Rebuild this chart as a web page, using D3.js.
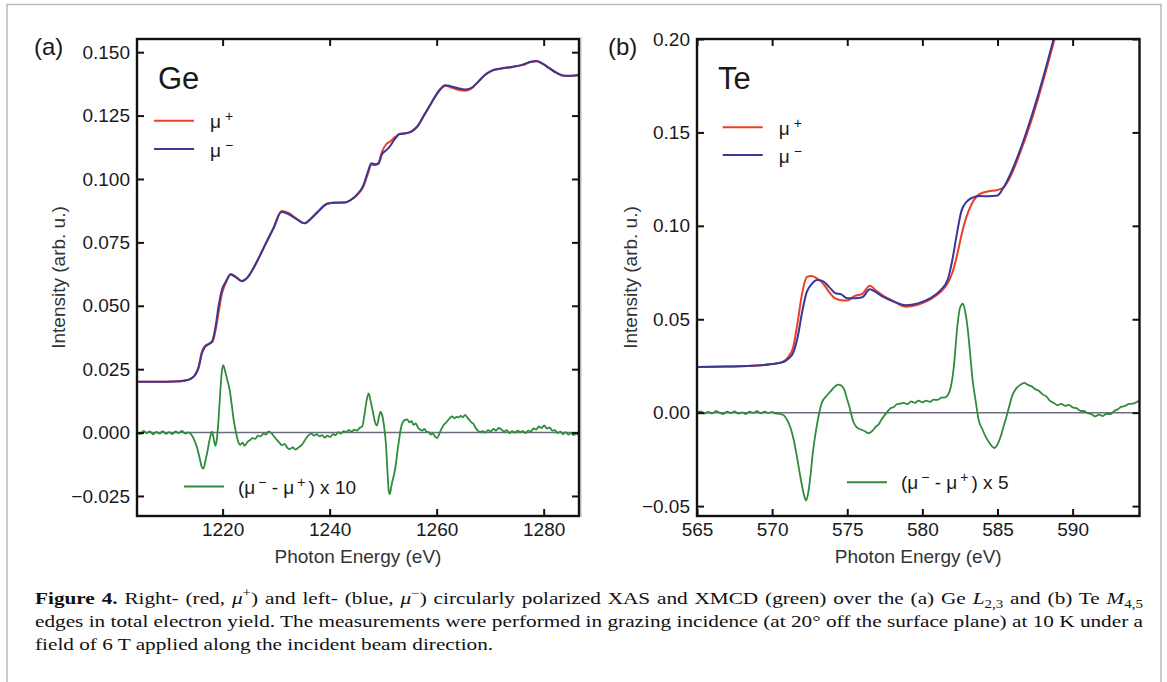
<!DOCTYPE html>
<html>
<head>
<meta charset="utf-8">
<script src="https://cdn.jsdelivr.net/npm/d3@7"></script>
<style>
  body { margin: 0; background: #fff; }
  svg text { font-family: "Liberation Sans", Arial, sans-serif; }
</style>
</head>
<body>
<svg id="fig" width="1167" height="682"></svg>
<script>
/**********************************************************************/
// DATA
/**********************************************************************/

// Ge L2,3 edge: photon energy (eV) and intensity for mu+ (red) and mu- (blue)
const geEnergy = [1204, 1208, 1211, 1213, 1214, 1214.8, 1215.5, 1216.1, 1216.7, 1217.4,
  1218.1, 1218.7, 1219.3, 1219.9, 1220.6, 1221.5, 1222.5, 1223.6, 1224.6, 1225.6,
  1226.8, 1228, 1229.5, 1231, 1232.3, 1233.6, 1235.3, 1236.6, 1238, 1239.6,
  1241, 1242.7, 1244, 1245.2, 1246.3, 1247.1, 1247.8, 1248.5, 1249.1, 1249.8,
  1250.5, 1251.3, 1252.2, 1253.1, 1254.2, 1255.3, 1256.4, 1257.6, 1259, 1260.5,
  1261.6, 1262.6, 1264, 1265.3, 1266.4, 1267.6, 1269, 1270.4, 1272, 1274,
  1276, 1277.6, 1278.7, 1279.8, 1281, 1282.3, 1283.6, 1285, 1286.6];
const geMuPlus = [0.0200, 0.0200, 0.0201, 0.0205, 0.0212, 0.0226, 0.0258, 0.0318, 0.0342, 0.0350,
  0.0358, 0.0405, 0.0480, 0.0550, 0.0590, 0.0625, 0.0614, 0.0598, 0.0611, 0.0643,
  0.0691, 0.0744, 0.0807, 0.0874, 0.0866, 0.0847, 0.0826, 0.0846, 0.0876, 0.0903,
  0.0907, 0.0907, 0.0918, 0.0938, 0.0970, 0.1018, 0.1056, 0.1055, 0.1062, 0.1108,
  0.1135, 0.1148, 0.1165, 0.1178, 0.1180, 0.1187, 0.1206, 0.1248, 0.1299, 0.1348,
  0.1368, 0.1362, 0.1352, 0.1348, 0.1355, 0.1379, 0.1409, 0.1427, 0.1435, 0.1441,
  0.1449, 0.1461, 0.1464, 0.1454, 0.1437, 0.1419, 0.1407, 0.1406, 0.1409];
const geMuMinus = [0.0200, 0.0200, 0.0201, 0.0205, 0.0212, 0.0225, 0.0255, 0.0310, 0.0338, 0.0348,
  0.0362, 0.0420, 0.0505, 0.0565, 0.0595, 0.0623, 0.0612, 0.0597, 0.0610, 0.0642,
  0.0690, 0.0742, 0.0805, 0.0870, 0.0862, 0.0845, 0.0825, 0.0845, 0.0875, 0.0902,
  0.0906, 0.0907, 0.0918, 0.0940, 0.0975, 0.1025, 0.1062, 0.1058, 0.1060, 0.1098,
  0.1112, 0.1130, 0.1158, 0.1177, 0.1180, 0.1188, 0.1208, 0.1250, 0.1300, 0.1350,
  0.1370, 0.1366, 0.1358, 0.1353, 0.1358, 0.1380, 0.1410, 0.1428, 0.1436, 0.1442,
  0.1450, 0.1462, 0.1465, 0.1455, 0.1438, 0.1420, 0.1408, 0.1407, 0.1410];

// Ge XMCD as plotted, (mu- - mu+) x 10 : [energy, value]
const geXmcd = [
  [1204.0, 0.0002], [1204.6, -0.0006], [1205.2, 0.0007], [1205.8, -0.0002], [1206.4, 0.0005],
  [1207.0, -0.0007], [1207.6, 0.0003], [1208.2, -0.0004], [1208.8, 0.0006], [1209.4, -0.0005],
  [1210.0, 0.0002], [1210.6, -0.0006], [1211.2, 0.0005], [1211.8, -0.0002], [1212.4, 0.0007],
  [1213.0, -0.0004], [1213.6, 0.0001], [1214.2, -0.0010], [1214.7, -0.0030], [1215.2, -0.0058],
  [1215.7, -0.0100], [1216.1, -0.0135], [1216.4, -0.0142], [1216.8, -0.0110], [1217.2, -0.0070],
  [1217.6, -0.0025], [1218.0, 0.0004], [1218.3, -0.0020], [1218.65, -0.0052], [1218.9, -0.0030],
  [1219.2, 0.0040], [1219.5, 0.0140], [1219.8, 0.0230], [1220.1, 0.0266], [1220.5, 0.0240],
  [1220.9, 0.0205], [1221.3, 0.0170], [1221.7, 0.0110], [1222.1, 0.0045], [1222.5, 0.0000],
  [1222.9, -0.0035], [1223.3, -0.0048], [1223.7, -0.0040], [1224.1, -0.0052], [1224.6, -0.0038],
  [1225.1, -0.0030], [1225.6, -0.0022], [1226.1, -0.0025], [1226.6, -0.0012], [1227.1, -0.0015],
  [1227.6, -0.0004], [1228.1, -0.0008], [1228.6, 0.0005], [1229.1, -0.0002], [1229.6, -0.0015],
  [1230.1, -0.0028], [1230.6, -0.0040], [1231.1, -0.0050], [1231.6, -0.0045], [1232.1, -0.0060],
  [1232.6, -0.0065], [1233.1, -0.0058], [1233.6, -0.0067], [1234.1, -0.0060], [1234.6, -0.0052],
  [1235.1, -0.0040], [1235.6, -0.0022], [1236.1, -0.0010], [1236.6, -0.0004], [1237.1, -0.0012],
  [1237.6, -0.0006], [1238.1, -0.0015], [1238.6, -0.0010], [1239.1, -0.0020], [1239.6, -0.0012],
  [1240.1, -0.0018], [1240.6, -0.0006], [1241.1, -0.0010], [1241.6, 0.0002], [1242.1, -0.0004],
  [1242.6, 0.0006], [1243.1, 0.0002], [1243.6, 0.0010], [1244.1, 0.0004], [1244.6, 0.0012],
  [1245.1, 0.0008], [1245.6, 0.0018], [1246.1, 0.0025], [1246.5, 0.0070], [1246.9, 0.0125],
  [1247.3, 0.0154], [1247.7, 0.0120], [1248.1, 0.0080], [1248.5, 0.0040], [1248.85, 0.0028],
  [1249.2, 0.0060], [1249.5, 0.0082], [1249.8, 0.0070], [1250.2, 0.0020], [1250.5, -0.0040],
  [1250.8, -0.0150], [1251.05, -0.0230], [1251.25, -0.0243], [1251.5, -0.0215], [1251.8, -0.0185],
  [1252.1, -0.0160], [1252.4, -0.0120], [1252.7, -0.0070], [1253.0, -0.0025], [1253.3, 0.0015],
  [1253.7, 0.0042], [1254.1, 0.0050], [1254.5, 0.0052], [1254.9, 0.0040], [1255.3, 0.0045],
  [1255.7, 0.0030], [1256.1, 0.0036], [1256.5, 0.0020], [1256.9, 0.0012], [1257.3, 0.0008],
  [1257.7, 0.0014], [1258.1, 0.0004], [1258.5, 0.0002], [1258.9, -0.0008], [1259.3, -0.0004],
  [1259.7, -0.0016], [1260.1, -0.0022], [1260.5, -0.0005], [1260.9, 0.0015], [1261.3, 0.0030],
  [1261.7, 0.0038], [1262.1, 0.0048], [1262.5, 0.0058], [1262.9, 0.0064], [1263.3, 0.0056],
  [1263.7, 0.0062], [1264.1, 0.0060], [1264.5, 0.0066], [1264.9, 0.0060], [1265.3, 0.0070],
  [1265.7, 0.0060], [1266.1, 0.0050], [1266.5, 0.0040], [1266.9, 0.0034], [1267.3, 0.0018],
  [1267.7, 0.0008], [1268.1, 0.0002], [1268.6, 0.0006], [1269.1, 0.0000], [1269.6, 0.0010],
  [1270.1, 0.0004], [1270.6, 0.0014], [1271.1, 0.0008], [1271.6, 0.0018], [1272.1, 0.0012],
  [1272.6, 0.0004], [1273.1, 0.0010], [1273.6, -0.0002], [1274.1, 0.0006], [1274.6, 0.0000],
  [1275.1, 0.0008], [1275.6, 0.0002], [1276.1, 0.0006], [1276.6, -0.0002], [1277.1, 0.0008],
  [1277.6, 0.0004], [1278.1, 0.0016], [1278.6, 0.0012], [1279.1, 0.0024], [1279.6, 0.0018],
  [1280.1, 0.0028], [1280.6, 0.0016], [1281.1, 0.0020], [1281.6, 0.0008], [1282.1, 0.0010],
  [1282.6, -0.0002], [1283.1, 0.0004], [1283.6, -0.0006], [1284.1, 0.0002], [1284.6, -0.0008],
  [1285.1, -0.0002], [1285.6, -0.0010], [1286.1, -0.0004], [1286.6, -0.0012]
];

// Te M4,5 edge
const teEnergy = [565, 567, 569, 570, 570.7, 571.1, 571.4, 571.7, 572.0, 572.3,
  572.6, 573.0, 573.4, 573.8, 574.2, 574.6, 575.0, 575.5, 576.0, 576.5,
  576.9, 577.4, 578, 578.9, 579.7, 580.5, 581.2, 581.7, 582.0, 582.3,
  582.6, 582.9, 583.3, 583.8, 584.4, 585.0, 585.4, 585.9, 586.5, 587.1,
  587.7, 588.3, 588.9];
const teMuPlus = [0.0245, 0.0247, 0.0252, 0.0260, 0.0272, 0.0300, 0.0350, 0.0485, 0.0640, 0.0725,
  0.0732, 0.0718, 0.0690, 0.0645, 0.0612, 0.0602, 0.0600, 0.0625, 0.0636, 0.0680,
  0.0655, 0.0625, 0.0600, 0.0567, 0.0578, 0.0605, 0.0645, 0.0695, 0.0750, 0.0840,
  0.0950, 0.1040, 0.1120, 0.1170, 0.1185, 0.1192, 0.1205, 0.1270, 0.1390, 0.1525,
  0.1680, 0.1850, 0.2030];
const teMuMinus = [0.0245, 0.0247, 0.0252, 0.0260, 0.0270, 0.0290, 0.0320, 0.0405, 0.0540, 0.0645,
  0.0685, 0.0710, 0.0703, 0.0672, 0.0640, 0.0633, 0.0612, 0.0612, 0.0618, 0.0660,
  0.0645, 0.0620, 0.0598, 0.0575, 0.0585, 0.0612, 0.0655, 0.0715, 0.0820, 0.0960,
  0.1080, 0.1125, 0.1150, 0.1160, 0.1158, 0.1162, 0.1205, 0.1285, 0.1405, 0.1545,
  0.1700, 0.1870, 0.2050];

// Te XMCD as plotted, (mu- - mu+) x 5 : [energy, value]
const teXmcd = [
  [565.0, 0.0000], [565.25, 0.0007], [565.5, -0.0005], [565.75, 0.0004], [566.0, -0.0004],
  [566.25, 0.0008], [566.5, 0.0000], [566.75, -0.0007], [567.0, 0.0005], [567.25, -0.0002],
  [567.5, 0.0007], [567.75, -0.0005], [568.0, 0.0002], [568.25, -0.0007], [568.5, 0.0005],
  [568.75, -0.0001], [569.0, 0.0008], [569.25, -0.0004], [569.5, 0.0005], [569.75, -0.0002],
  [570.0, 0.0004], [570.25, -0.0005], [570.5, -0.0006], [570.8, -0.0016], [571.0, -0.0040],
  [571.2, -0.0075], [571.45, -0.0150], [571.65, -0.0235], [571.85, -0.0330], [572.0, -0.0395],
  [572.15, -0.0450], [572.26, -0.0470], [572.4, -0.0430], [572.55, -0.0340], [572.7, -0.0220],
  [572.9, -0.0105], [573.1, -0.0015], [573.3, 0.0052], [573.6, 0.0088], [573.9, 0.0115],
  [574.15, 0.0138], [574.4, 0.0150], [574.6, 0.0145], [574.8, 0.0123], [575.0, 0.0070],
  [575.15, 0.0030], [575.4, -0.0047], [575.6, -0.0075], [575.9, -0.0090], [576.15, -0.0098],
  [576.4, -0.0110], [576.6, -0.0102], [576.75, -0.0090], [576.9, -0.0075], [577.1, -0.0062],
  [577.25, -0.0040], [577.45, -0.0018], [577.7, 0.0008], [577.9, 0.0025], [578.1, 0.0030],
  [578.3, 0.0045], [578.5, 0.0048], [578.75, 0.0052], [579.0, 0.0046], [579.25, 0.0060],
  [579.5, 0.0053], [579.75, 0.0064], [580.0, 0.0055], [580.25, 0.0064], [580.5, 0.0058],
  [580.75, 0.0070], [581.0, 0.0068], [581.25, 0.0080], [581.5, 0.0082], [581.7, 0.0095],
  [581.9, 0.0140], [582.1, 0.0250], [582.3, 0.0440], [582.5, 0.0560], [582.7, 0.0583],
  [582.85, 0.0540], [583.0, 0.0460], [583.15, 0.0340], [583.35, 0.0170], [583.55, 0.0060],
  [583.75, -0.0040], [584.0, -0.0090], [584.2, -0.0127], [584.45, -0.0160], [584.65, -0.0182],
  [584.8, -0.0189], [585.0, -0.0170], [585.2, -0.0130], [585.4, -0.0075], [585.6, -0.0020],
  [585.8, 0.0040], [586.0, 0.0095], [586.25, 0.0130], [586.5, 0.0148], [586.8, 0.0159],
  [587.0, 0.0150], [587.25, 0.0142], [587.5, 0.0126], [587.75, 0.0117], [588.0, 0.0098],
  [588.25, 0.0087], [588.5, 0.0063], [588.75, 0.0052], [589.0, 0.0040], [589.25, 0.0047],
  [589.5, 0.0036], [589.75, 0.0042], [590.0, 0.0028], [590.25, 0.0024], [590.5, 0.0010],
  [590.75, 0.0008], [591.0, -0.0002], [591.25, -0.0008], [591.5, -0.0020], [591.75, -0.0010],
  [592.0, -0.0018], [592.25, -0.0006], [592.5, -0.0008], [592.75, 0.0008], [593.0, 0.0018],
  [593.25, 0.0032], [593.5, 0.0036], [593.75, 0.0047], [594.0, 0.0048], [594.4, 0.0064]
];

// Tick values
const geXTicks = [1220, 1240, 1260, 1280];
const geYTicks = [-0.025, 0, 0.025, 0.05, 0.075, 0.1, 0.125, 0.15];
const teXTicks = [565, 570, 575, 580, 585, 590];
const teYTicks = [-0.05, 0, 0.05, 0.1, 0.15, 0.2];

/**********************************************************************/
// STYLE
/**********************************************************************/
const colRed = '#ea3f2a';
const colBlue = '#3a3897';
const colGreen = '#2e8c3c';
const colZero = '#6c6c7e';

const svg = d3.select('#fig');
svg.append('rect').attr('width', 1167).attr('height', 682).attr('fill', '#fff');

// page frame and the faint seam between the two panel images
svg.append('path')
   .attr('d', 'M7,700 V4.5 H1161 V700')
   .attr('fill', 'none').attr('stroke', '#bcbcbc').attr('stroke-width', 1.5);
svg.append('line')
   .attr('x1', 581).attr('x2', 581).attr('y1', 37).attr('y2', 517)
   .attr('stroke', '#d4d4d4').attr('stroke-width', 1.5);

/**********************************************************************/
// PANEL
/**********************************************************************/
function drawPanel(p) {
    const x = d3.scaleLinear().domain(p.xDomain).range([p.left, p.right]);
    const y = d3.scaleLinear().domain(p.yDomain).range([p.bottom, p.top]);
    const g = svg.append('g');

    g.append('clipPath').attr('id', 'clip-' + p.id)
     .append('rect')
     .attr('x', p.left).attr('y', p.top)
     .attr('width', p.right - p.left).attr('height', p.bottom - p.top);

    // zero line
    g.append('line')
     .attr('x1', p.left).attr('x2', p.right)
     .attr('y1', y(0)).attr('y2', y(0))
     .attr('stroke', colZero).attr('stroke-width', 1.5);

    const line = d3.line().x(d => x(d[0])).y(d => y(d[1])).curve(d3.curveMonotoneX);
    const plus = d3.zip(p.energy, p.muPlus);
    const minus = d3.zip(p.energy, p.muMinus);

    const curves = g.append('g').attr('clip-path', `url(#clip-${p.id})`).attr('fill', 'none');
    curves.append('path').attr('d', line(p.xmcd))
          .attr('stroke', colGreen).attr('stroke-width', 1.8).attr('stroke-linejoin', 'round');
    curves.append('path').attr('d', line(plus))
          .attr('stroke', colRed).attr('stroke-width', 2);
    curves.append('path').attr('d', line(minus))
          .attr('stroke', colBlue).attr('stroke-width', 2);

    // axes with inward ticks
    const fmt = d3.format(p.yFmt);
    const left = g.append('g').attr('transform', `translate(${p.left},0)`)
                  .call(d3.axisLeft(y).tickValues(p.yTicks).tickFormat(fmt).tickSize(-7).tickPadding(7));
    const right = g.append('g').attr('transform', `translate(${p.right},0)`)
                   .call(d3.axisRight(y).tickValues(p.yTicks).tickFormat('').tickSize(-7));
    const top = g.append('g').attr('transform', `translate(0,${p.top})`)
                 .call(d3.axisTop(x).tickValues(p.xTicks).tickFormat('').tickSize(-7));
    const bottom = g.append('g').attr('transform', `translate(0,${p.bottom})`)
                    .call(d3.axisBottom(x).tickValues(p.xTicks).tickFormat(d3.format('d')).tickSize(-7).tickPadding(7));
    [left, right, top, bottom].forEach(a => {
        a.select('.domain').remove();
        a.attr('font-family', null).attr('font-size', null);
        a.selectAll('line').attr('stroke', '#111').attr('stroke-width', 2);
        a.selectAll('text').style('font-size', '19px').attr('fill', '#1a1a1a');
    });

    // frame
    g.append('rect')
     .attr('x', p.left).attr('y', p.top)
     .attr('width', p.right - p.left).attr('height', p.bottom - p.top)
     .attr('fill', 'none').attr('stroke', '#111').attr('stroke-width', 2.4);

    // axis titles
    g.append('text')
     .attr('x', (p.left + p.right) / 2).attr('y', 563)
     .attr('text-anchor', 'middle').style('font-size', '19px').attr('fill', '#333')
     .text('Photon Energy (eV)');
    g.append('text')
     .attr('transform', `translate(${p.yTitleX},277.5) rotate(-90)`)
     .attr('text-anchor', 'middle').style('font-size', '19px').attr('fill', '#333')
     .text('Intensity (arb. u.)');

    // panel letter and element
    g.append('text').attr('x', p.tagX).attr('y', 55)
     .style('font-size', '24px').attr('fill', '#1a1a1a').text(p.tag);
    g.append('text').attr('x', p.elemX).attr('y', 89)
     .style('font-size', '31px').attr('fill', '#1a1a1a').text(p.element);

    // legend for XAS
    [[colRed, '+', p.legY[0]], [colBlue, '\u2212', p.legY[1]]].forEach(([c, s, ly]) => {
        g.append('line')
         .attr('x1', p.legX).attr('x2', p.legX + 40).attr('y1', ly).attr('y2', ly)
         .attr('stroke', c).attr('stroke-width', 2);
        const t = g.append('text').attr('x', p.legX + 56).attr('y', ly + 7.5)
                   .style('font-size', '19px').attr('fill', '#1a1a1a');
        t.append('tspan').text('\u03bc');
        t.append('tspan').attr('dx', 4).attr('dy', -7).style('font-size', '14px').text(s);
    });

    // legend for XMCD
    g.append('line')
     .attr('x1', p.gLegX).attr('x2', p.gLegX + 40).attr('y1', p.gLegY).attr('y2', p.gLegY)
     .attr('stroke', colGreen).attr('stroke-width', 2);
    const gt = g.append('text').attr('x', p.gLegX + 54).attr('y', p.gLegY + 7)
                .style('font-size', '19px').attr('fill', '#1a1a1a');
    gt.append('tspan').text('(\u03bc');
    gt.append('tspan').attr('dx', 3).attr('dy', -7).style('font-size', '14px').text('\u2212');
    gt.append('tspan').attr('dy', 7).text(' - \u03bc');
    gt.append('tspan').attr('dx', 3).attr('dy', -7).style('font-size', '14px').text('+');
    gt.append('tspan').attr('dx', 3).attr('dy', 7).text(') x ' + p.factor);
}

drawPanel({
    id: 'a', tag: '(a)', element: 'Ge', factor: 10,
    left: 137, right: 579, top: 39, bottom: 516,
    xDomain: [1204, 1286.6], yDomain: [-0.0329, 0.1552],
    xTicks: geXTicks, yTicks: geYTicks, yFmt: '.3f',
    energy: geEnergy, muPlus: geMuPlus, muMinus: geMuMinus, xmcd: geXmcd,
    yTitleX: 65, tagX: 34, elemX: 158,
    legX: 154, legY: [120.7, 149], gLegX: 184, gLegY: 486.5
});

drawPanel({
    id: 'b', tag: '(b)', element: 'Te', factor: 5,
    left: 697, right: 1139.5, top: 39, bottom: 516,
    xDomain: [565, 594.45], yDomain: [-0.0553, 0.2],
    xTicks: teXTicks, yTicks: teYTicks, yFmt: '.2f',
    energy: teEnergy, muPlus: teMuPlus, muMinus: teMuMinus, xmcd: teXmcd,
    yTitleX: 637, tagX: 608, elemX: 718,
    legX: 722.7, legY: [127.3, 155], gLegX: 847, gLegY: 482.3
});

/**********************************************************************/
// CAPTION (wide serif: stretched horizontally, first two lines justified)
/**********************************************************************/
const captionLines = [
    [['Figure 4.', 'b'], [' Right- (red, '], ['\u03bc', 'i'], ['+', 'sup'], [') and left- (blue, '],
     ['\u03bc', 'i'], ['\u2212', 'sup'], [') circularly polarized XAS and XMCD (green) over the (a) Ge '],
     ['L', 'i'], ['2,3', 'sub'], [' and (b) Te '], ['M', 'i'], ['4,5', 'sub']],
    [['edges in total electron yield. The measurements were performed in grazing incidence (at 20\u00b0 off the surface plane) at 10 K under a']],
    [['field of 6 T applied along the incident beam direction.']]
];
const captionY = [604, 627, 650];
const captionJustify = [true, true, false];
const captionStretch = 1.25;

captionLines.forEach((segs, i) => {
    const t = svg.append('text')
                 .attr('transform', `translate(35,${captionY[i]}) scale(${captionStretch},1)`)
                 .style('font-family', '"Liberation Serif", "Times New Roman", serif')
                 .style('font-size', '17px').attr('fill', '#111');
    let shift = 0;
    segs.forEach(([txt, kind]) => {
        const target = kind === 'sup' ? -7 : kind === 'sub' ? 4 : 0;
        const s = t.append('tspan').text(txt).attr('dy', target - shift);
        shift = target;
        if (kind === 'b') s.style('font-weight', 'bold');
        if (kind === 'i') s.style('font-style', 'italic');
        if (kind === 'sup' || kind === 'sub') s.style('font-size', '12px');
    });
    if (captionJustify[i]) {
        const natural = t.node().getComputedTextLength();
        const spaces = segs.map(d => d[0]).join('').split(' ').length - 1;
        t.style('word-spacing', ((1108 / captionStretch - natural) / spaces) + 'px');
    }
});
</script>
</body>
</html>
